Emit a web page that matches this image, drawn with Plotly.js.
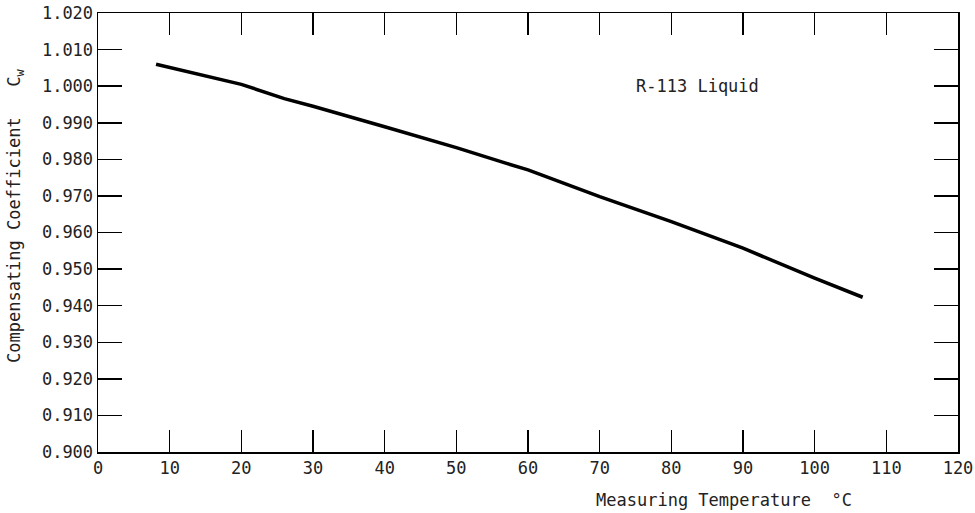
<!DOCTYPE html>
<html>
<head>
<meta charset="utf-8">
<script src="https://cdn.plot.ly/plotly-3.0.1.min.js"></script>
<style>html,body{margin:0;padding:0;background:#fff;}#chart{width:975px;height:513px;}</style>
</head>
<body>
<div id="chart"></div>
<script>
// Measuring temperature (°C)
const temperature = [8.1, 15, 20, 26, 30, 40, 48, 50, 57, 60, 70, 80, 90, 100, 106.7];
// Compensating coefficient Cw
const coefficient = [1.0060, 1.0028, 1.0005, 0.9966, 0.9945, 0.9889, 0.9844, 0.9832, 0.9789, 0.9771, 0.9698, 0.9630, 0.9557, 0.9475, 0.9423];
const xTicks = [0, 10, 20, 30, 40, 50, 60, 70, 80, 90, 100, 110, 120];
const yTicks = [0.900, 0.910, 0.920, 0.930, 0.940, 0.950, 0.960, 0.970, 0.980, 0.990, 1.000, 1.010, 1.020];
const yTickText = yTicks.map(v => v.toFixed(3));
const seriesLabel = 'R-113 Liquid';

const font = {family: 'DejaVu Sans Mono, monospace', size: 17, color: '#222'};

const trace = {
  x: temperature, y: coefficient, type: 'scatter', mode: 'lines',
  line: {color: '#000', width: 3.5, shape: 'linear'},
  hoverinfo: 'skip', showlegend: false
};

const pw = 975 - 98 - 17, ph = 513 - 13 - 61;

const layout = {
  width: 975, height: 513,
  margin: {l: 98, r: 17, t: 13, b: 61},
  paper_bgcolor: '#fff', plot_bgcolor: '#fff',
  font: font,
  showlegend: false,
  xaxis: {
    range: [0, 120], tickvals: xTicks, ticktext: xTicks.map(String),
    ticks: 'inside', ticklen: 22, tickwidth: 1.5, tickcolor: '#000',
    showline: true, linecolor: '#000', linewidth: 1.5, mirror: 'ticks',
    showgrid: false, zeroline: false, tickfont: font, fixedrange: true
  },
  yaxis: {
    range: [0.900, 1.020], tickvals: yTicks, ticktext: yTickText,
    ticks: 'inside', ticklen: 24, tickwidth: 1.5, tickcolor: '#000',
    showline: true, linecolor: '#000', linewidth: 1.5, mirror: 'ticks',
    showgrid: false, zeroline: false, tickfont: font, fixedrange: true
  },
  annotations: [
    {text: seriesLabel, x: 83.6, y: 1.0000, xref: 'x', yref: 'y', showarrow: false, font: font},
    {text: 'Measuring Temperature  °C', xref: 'paper', yref: 'paper',
     x: (724 - 98) / pw, y: 1 - (500 - 13) / ph, xanchor: 'center', yanchor: 'middle',
     showarrow: false, font: font},
    {text: 'Compensating Coefficient   C<sub>w</sub>', xref: 'paper', yref: 'paper',
     x: (15 - 98) / pw, y: 1 - (216 - 13) / ph, xanchor: 'center', yanchor: 'middle',
     showarrow: false, textangle: -90, font: font}
  ]
};

Plotly.newPlot('chart', [trace], layout, {displayModeBar: false, staticPlot: true});
</script>
</body>
</html>
